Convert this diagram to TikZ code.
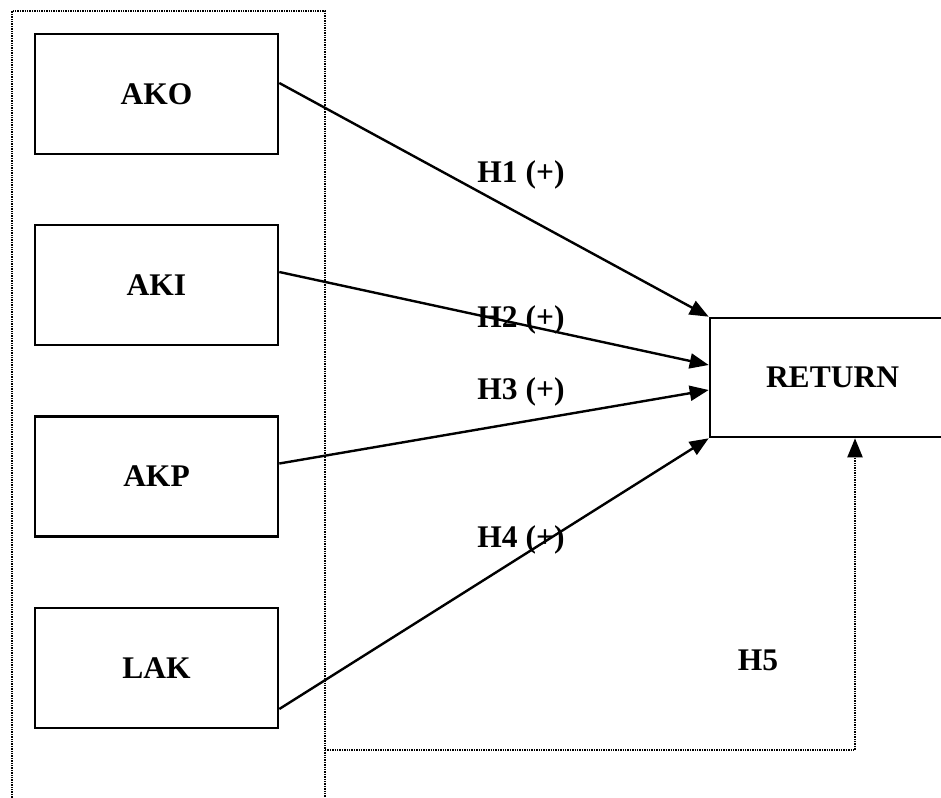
\documentclass[tikz,border=0pt]{standalone}
\usepackage{fontspec}
\setmainfont{Liberation Serif}
\usetikzlibrary{arrows.meta}
\begin{document}
\begin{tikzpicture}[x=1pt,y=1pt,
  lbl/.style={font=\fontsize{31.5}{36}\selectfont\bfseries},
  varbox/.style={draw,line width=2.6pt,minimum width=243pt,minimum height=120pt,inner sep=0pt,lbl},
  tip/.style={-{Triangle[length=19pt,width=15pt]}},
  link/.style={line width=2.4pt,tip},
  frame/.style={line width=2.2pt,dash pattern=on 1.4pt off 1pt},
]
\useasboundingbox (0,0) rectangle (941,-797);
\clip (0,0) rectangle (941,-797);

% grouping frame around the independent variables (open at the bottom)
\draw[frame] (12,-800) -- (12,-11) -- (325,-11) -- (325,-800);

% independent variables
\node[varbox] (ako) at (156.5,-94) {AKO};
\node[varbox] (aki) at (156.5,-285) {AKI};
\node[varbox] (akp) at (156.5,-476.5) {AKP};
\node[varbox] (lak) at (156.5,-668) {LAK};

% dependent variable
\node[varbox,minimum width=245pt,minimum height=119pt] (ret) at (832.5,-377.5) {RETURN};

% hypotheses
\draw[link] ([yshift=11pt]ako.east) -- (ret.north west);
\draw[link] ([yshift=13pt]aki.east) -- ([yshift=12.5pt]ret.west);
\draw[link] ([yshift=13pt]akp.east) -- ([yshift=-12.5pt]ret.west);
\draw[link] ([yshift=-41pt]lak.east) -- (ret.south west);

\node[lbl] (h1) at (521,-175) {H1 (+)};
\node[lbl] (h2) at (521,-320) {H2 (+)};
\node[lbl] (h3) at (521,-392) {H3 (+)};
\node[lbl] (h4) at (521,-540) {H4 (+)};
\node[lbl] (h5) at (758,-660) {H5};

% joint effect of the whole group
\coordinate (grp) at (325,-750);
\coordinate (retin) at ([xshift=22.5pt]ret.south);
\draw[frame] (grp) -| ([yshift=-17pt]retin);
\draw[frame,tip] ([yshift=-18pt]retin) -- (retin);
\end{tikzpicture}
\end{document}
